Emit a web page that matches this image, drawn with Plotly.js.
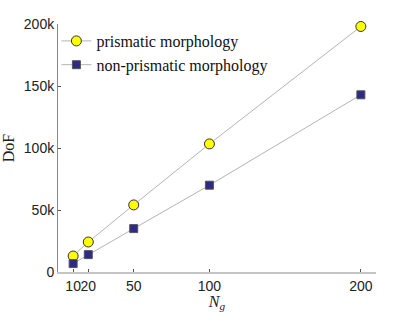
<!DOCTYPE html>
<html>
<head>
<meta charset="utf-8">
<script src="https://cdn.plot.ly/plotly-3.0.1.min.js"></script>
<style>html,body{margin:0;padding:0;background:#fff;}#chart{width:415px;height:312px;}</style>
</head>
<body>
<div id="chart"></div>
<script>
const Ng = [10, 20, 50, 100, 200];
const prismatic = [12900, 24200, 54100, 103300, 198000];
const nonPrismatic = [6800, 14000, 35000, 70000, 142900];
const xTickVals = [10, 20, 50, 100, 200];
const xTickText = ['10', '20', '50', '100', '200'];
const yTickVals = [0, 50000, 100000, 150000, 200000];
const yTickText = ['0', '50k', '100k', '150k', '200k'];

const traces = [
  {
    x: Ng, y: prismatic, name: 'prismatic morphology', type: 'scatter', mode: 'lines+markers',
    line: {color: '#b4b4b4', width: 1},
    marker: {symbol: 'circle', size: 10, color: '#ffff00', line: {color: '#333333', width: 1}},
    cliponaxis: false
  },
  {
    x: Ng, y: nonPrismatic, name: 'non-prismatic morphology', type: 'scatter', mode: 'lines+markers',
    line: {color: '#b4b4b4', width: 1},
    marker: {symbol: 'square', size: 8, color: '#2e2a86', line: {color: '#555555', width: 1}},
    cliponaxis: false
  }
];

const layout = {
  width: 415, height: 312,
  margin: {l: 58, r: 39, t: 24, b: 40, pad: 0},
  paper_bgcolor: '#ffffff', plot_bgcolor: '#ffffff',
  showlegend: true,
  legend: {x: -0.005, y: 1.0, xanchor: 'left', yanchor: 'top', bgcolor: 'rgba(0,0,0,0)',
           font: {family: 'Liberation Serif, serif', size: 16, color: '#111'},
           tracegroupgap: 0, itemwidth: 30},
  xaxis: {
    range: [0, 210], tickmode: 'array', tickvals: xTickVals, ticktext: xTickText, tickangle: 0,
    showgrid: false, zeroline: false, showline: true, linecolor: '#c4c4c4', linewidth: 2,
    ticks: 'inside', ticklen: 3, tickcolor: '#555', tickwidth: 1,
    tickfont: {family: 'Liberation Sans, Arial, sans-serif', size: 14, color: '#222'},
    title: {text: '<i>N<sub>g</sub></i>', font: {family: 'Liberation Serif, serif', size: 16, color: '#222'}, standoff: 2}
  },
  yaxis: {
    range: [0, 200000], tickmode: 'array', tickvals: yTickVals, ticktext: yTickText,
    showgrid: false, zeroline: false, showline: true, linecolor: '#888', linewidth: 1,
    ticks: 'inside', ticklen: 3, tickcolor: '#555', tickwidth: 1,
    tickfont: {family: 'Liberation Sans, Arial, sans-serif', size: 14, color: '#222'},
    title: {text: 'DoF', font: {family: 'Liberation Serif, serif', size: 16, color: '#222'}, standoff: 6}
  }
};

Plotly.newPlot('chart', traces, layout, {displayModeBar: false, staticPlot: true});
</script>
</body>
</html>
